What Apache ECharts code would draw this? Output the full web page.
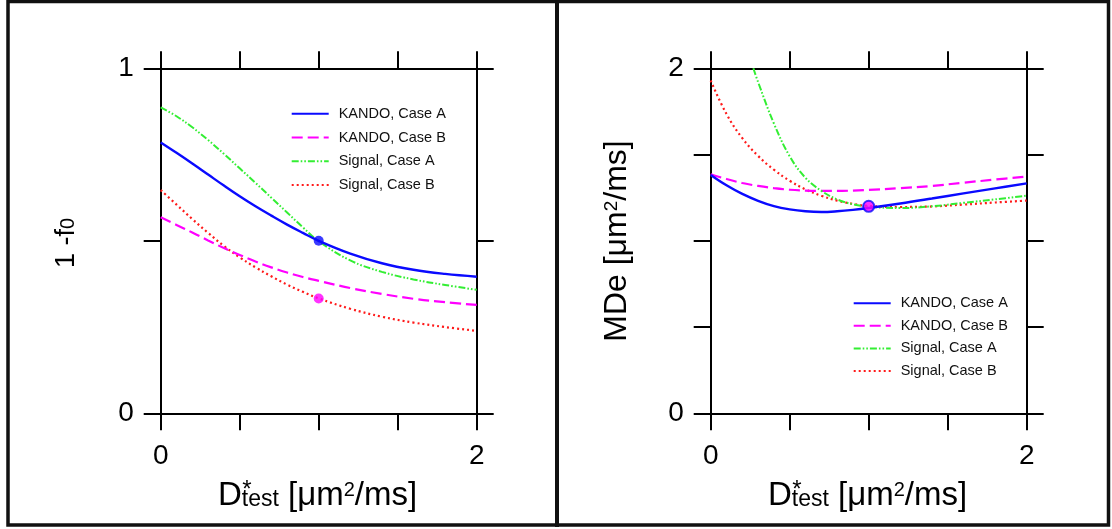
<!DOCTYPE html>
<html><head><meta charset="utf-8">
<script src="https://cdn.jsdelivr.net/npm/echarts@6/dist/echarts.min.js"></script>
<style>html,body{margin:0;padding:0;background:#fff}#c{width:1112px;height:529px}</style>
</head><body><div id="c"></div>
<script>
// ---------- data ----------
const xs = [0, 0.1, 0.2, 0.3, 0.4, 0.5, 0.6, 0.7, 0.8, 0.9, 1.0, 1.2, 1.4, 1.6, 1.8, 2.0];
const seriesNames = ['KANDO, Case A', 'KANDO, Case B', 'Signal, Case A', 'Signal, Case B'];

// left panel: 1 - f0
const f_kandoA  = [0.785, 0.755, 0.724, 0.692, 0.660, 0.629, 0.600, 0.573, 0.547, 0.523, 0.500, 0.463, 0.435, 0.416, 0.404, 0.396];
const f_kandoB  = [0.568, 0.546, 0.524, 0.501, 0.479, 0.459, 0.440, 0.423, 0.408, 0.395, 0.384, 0.363, 0.346, 0.332, 0.322, 0.314];
const f_signalA = [0.887, 0.861, 0.829, 0.792, 0.752, 0.710, 0.668, 0.625, 0.582, 0.539, 0.499, 0.443, 0.410, 0.388, 0.372, 0.358];
const f_signalB = [0.647, 0.605, 0.563, 0.523, 0.485, 0.452, 0.423, 0.397, 0.373, 0.352, 0.333, 0.303, 0.280, 0.263, 0.250, 0.239];

// right panel: MDe [um2/ms]
const m_kandoA  = [1.382, 1.322, 1.272, 1.232, 1.201, 1.182, 1.171, 1.167, 1.171, 1.179, 1.190, 1.216, 1.245, 1.275, 1.304, 1.333];
const m_kandoB  = [1.386, 1.358, 1.335, 1.318, 1.305, 1.296, 1.291, 1.289, 1.289, 1.291, 1.295, 1.305, 1.318, 1.337, 1.355, 1.372];
const xsSignalA_m = [0.27, 0.3, 0.4, 0.5, 0.6, 0.7, 0.8, 0.9, 1.0, 1.2, 1.4, 1.6, 1.8, 2.0];
const m_signalA = [2.0, 1.92, 1.68, 1.49, 1.365, 1.29, 1.24, 1.212, 1.198, 1.19, 1.20, 1.22, 1.24, 1.262];
const m_signalB = [1.929, 1.735, 1.595, 1.492, 1.412, 1.348, 1.298, 1.261, 1.233, 1.214, 1.202, 1.196, 1.199, 1.21, 1.222, 1.233];

// reference points
const dotLeftA = [[1.0, 0.5]];
const dotLeftB = [[1.0, 0.333]];
const dotRight = [[1.0, 1.2]];

// tick labels shown
const xTickLabels = [0, 2];
const yLeftTickLabels = [0, 1];
const yRightTickLabels = [0, 2];

// ---------- styles ----------
const FONT = '"Liberation Sans", Arial, Helvetica, sans-serif';
const colors = ['#0a0aff', '#ff00ff', '#33ee33', '#ff1a1a'];
const lineTypes = ['solid', [11, 5], [7, 2, 1.6, 2, 1.6, 2], [2, 3]];
const lineWidths = [2.4, 2.2, 2, 2.2];

function pairs(xv, yv) { return xv.map((x, i) => [x, yv[i]]); }

function axis(kind, gridIndex, position, min, max, labels) {
  const a = {
    type: 'value', gridIndex, position, min, max, interval: 0.5,
    axisLine: { show: true, onZero: false, lineStyle: { color: '#000', width: 2 } },
    axisTick: { show: true, inside: false, length: 17, lineStyle: { color: '#000', width: 2 } },
    splitLine: { show: false },
    axisLabel: { show: !!labels }
  };
  if (labels) {
    a.axisLabel = {
      show: true, fontSize: 28, color: '#000', fontFamily: FONT,
      margin: kind === 'x' ? 29 : 27,
      formatter: v => labels.includes(v) ? String(v) : ''
    };
  }
  return a;
}

const mctx = document.createElement('canvas').getContext('2d');
function tw(t, s) { mctx.font = s + 'px ' + FONT; return mctx.measureText(t).width; }

function title(pieces, x, y, rotation) {
  const L = pieces.reduce((acc, p) => acc + tw(p.t, p.s), 0);
  let cur = -L / 2;
  const children = [];
  pieces.forEach(p => {
    children.push({
      type: 'text', x: cur, y: -0.35 * p.s + (p.dy || 0),
      style: { text: p.t, font: p.s + 'px ' + FONT, fill: '#000',
               align: 'left', verticalAlign: 'middle', textAlign: 'left', textVerticalAlign: 'middle' }
    });
    if (p.over) {
      children.push({
        type: 'text', x: cur + 0.5, y: -0.35 * 24 - 8,
        style: { text: p.over, font: '24px ' + FONT, fill: '#000',
                 align: 'left', verticalAlign: 'middle', textAlign: 'left', textVerticalAlign: 'middle' }
      });
    }
    cur += tw(p.t, p.s);
  });
  return { type: 'group', x, y, rotation: rotation || 0, children };
}

const xTitlePieces = [
  { t: 'D', s: 33 }, { t: 'test', s: 23, dy: 1, over: '*' },
  { t: ' [\u03bcm', s: 33 }, { t: '2', s: 20, dy: -10 }, { t: '/ms]', s: 33 }
];
const yLeftPieces = [{ t: '1 -f', s: 27 }, { t: '0', s: 20, dy: -1 }];
const yRightPieces = [{ t: 'MDe [\u03bcm', s: 32 }, { t: '2', s: 19, dy: -10 }, { t: '/ms]', s: 32 }];

function lineSeries(i, axisIdx, data) {
  return {
    type: 'line', name: seriesNames[i], xAxisIndex: axisIdx * 2, yAxisIndex: axisIdx * 2,
    data, smooth: 0.4, symbol: 'none', showSymbol: false, clip: true,
    color: colors[i], itemStyle: { color: colors[i] },
    lineStyle: { color: colors[i], width: lineWidths[i], type: lineTypes[i] },
    z: 3 + (i === 0 ? 1 : 0)
  };
}

function legend(left, top, gap) {
  return {
    data: seriesNames, orient: 'vertical', left, top, padding: 0,
    itemWidth: 37, itemHeight: 14, itemGap: gap, selectedMode: false,
    itemStyle: { opacity: 0 },
    textStyle: { fontSize: 14.5, fontFamily: FONT, color: '#111', lineHeight: 14, padding: [0, 0, 0, 5] }
  };
}

const option = {
  animation: false,
  backgroundColor: '#fff',
  grid: [
    { left: 160.7, top: 68.3, width: 316, height: 345 },
    { left: 710.7, top: 68.3, width: 316, height: 345 }
  ],
  xAxis: [
    axis('x', 0, 'bottom', 0, 2, xTickLabels),
    axis('x', 0, 'top', 0, 2, null),
    axis('x', 1, 'bottom', 0, 2, xTickLabels),
    axis('x', 1, 'top', 0, 2, null)
  ],
  yAxis: [
    axis('y', 0, 'left', 0, 1, yLeftTickLabels),
    axis('y', 0, 'right', 0, 1, null),
    axis('y', 1, 'left', 0, 2, yRightTickLabels),
    axis('y', 1, 'right', 0, 2, null)
  ],
  legend: [legend(290.7, 106.3, 8.7), legend(852.7, 295.7, 7.6)],
  series: [
    lineSeries(3, 0, pairs(xs, f_signalB)),
    lineSeries(1, 0, pairs(xs, f_kandoB)),
    lineSeries(2, 0, pairs(xs, f_signalA)),
    lineSeries(0, 0, pairs(xs, f_kandoA)),
    lineSeries(3, 1, pairs(xs, m_signalB)),
    lineSeries(1, 1, pairs(xs, m_kandoB)),
    lineSeries(2, 1, pairs(xsSignalA_m, m_signalA)),
    lineSeries(0, 1, pairs(xs, m_kandoA)),
    { type: 'scatter', xAxisIndex: 0, yAxisIndex: 0, data: dotLeftA, symbolSize: 10, itemStyle: { color: colors[0] }, z: 10 },
    { type: 'scatter', xAxisIndex: 0, yAxisIndex: 0, data: dotLeftB, symbolSize: 10, itemStyle: { color: colors[1] }, z: 10 },
    { type: 'scatter', xAxisIndex: 2, yAxisIndex: 2, data: dotRight, symbolSize: 11, itemStyle: { color: colors[1], borderColor: colors[0], borderWidth: 2 }, z: 10 }
  ],
  graphic: [
    { type: 'rect', shape: { x: 8, y: 1.5, width: 1100.5, height: 523.5 }, style: { fill: 'none', stroke: '#111', lineWidth: 3.5 }, silent: true },
    { type: 'rect', shape: { x: 555, y: 0, width: 4, height: 527 }, style: { fill: '#111' }, silent: true },
    title(xTitlePieces, 317.5, 507, 0),
    title(xTitlePieces, 867.5, 507, 0),
    title(yLeftPieces, 76, 243, Math.PI / 2),
    title(yRightPieces, 628.7, 241, Math.PI / 2)
  ]
};

const chart = echarts.init(document.getElementById('c'), null, { renderer: 'canvas' });
chart.setOption(option);
</script>
</body></html>
